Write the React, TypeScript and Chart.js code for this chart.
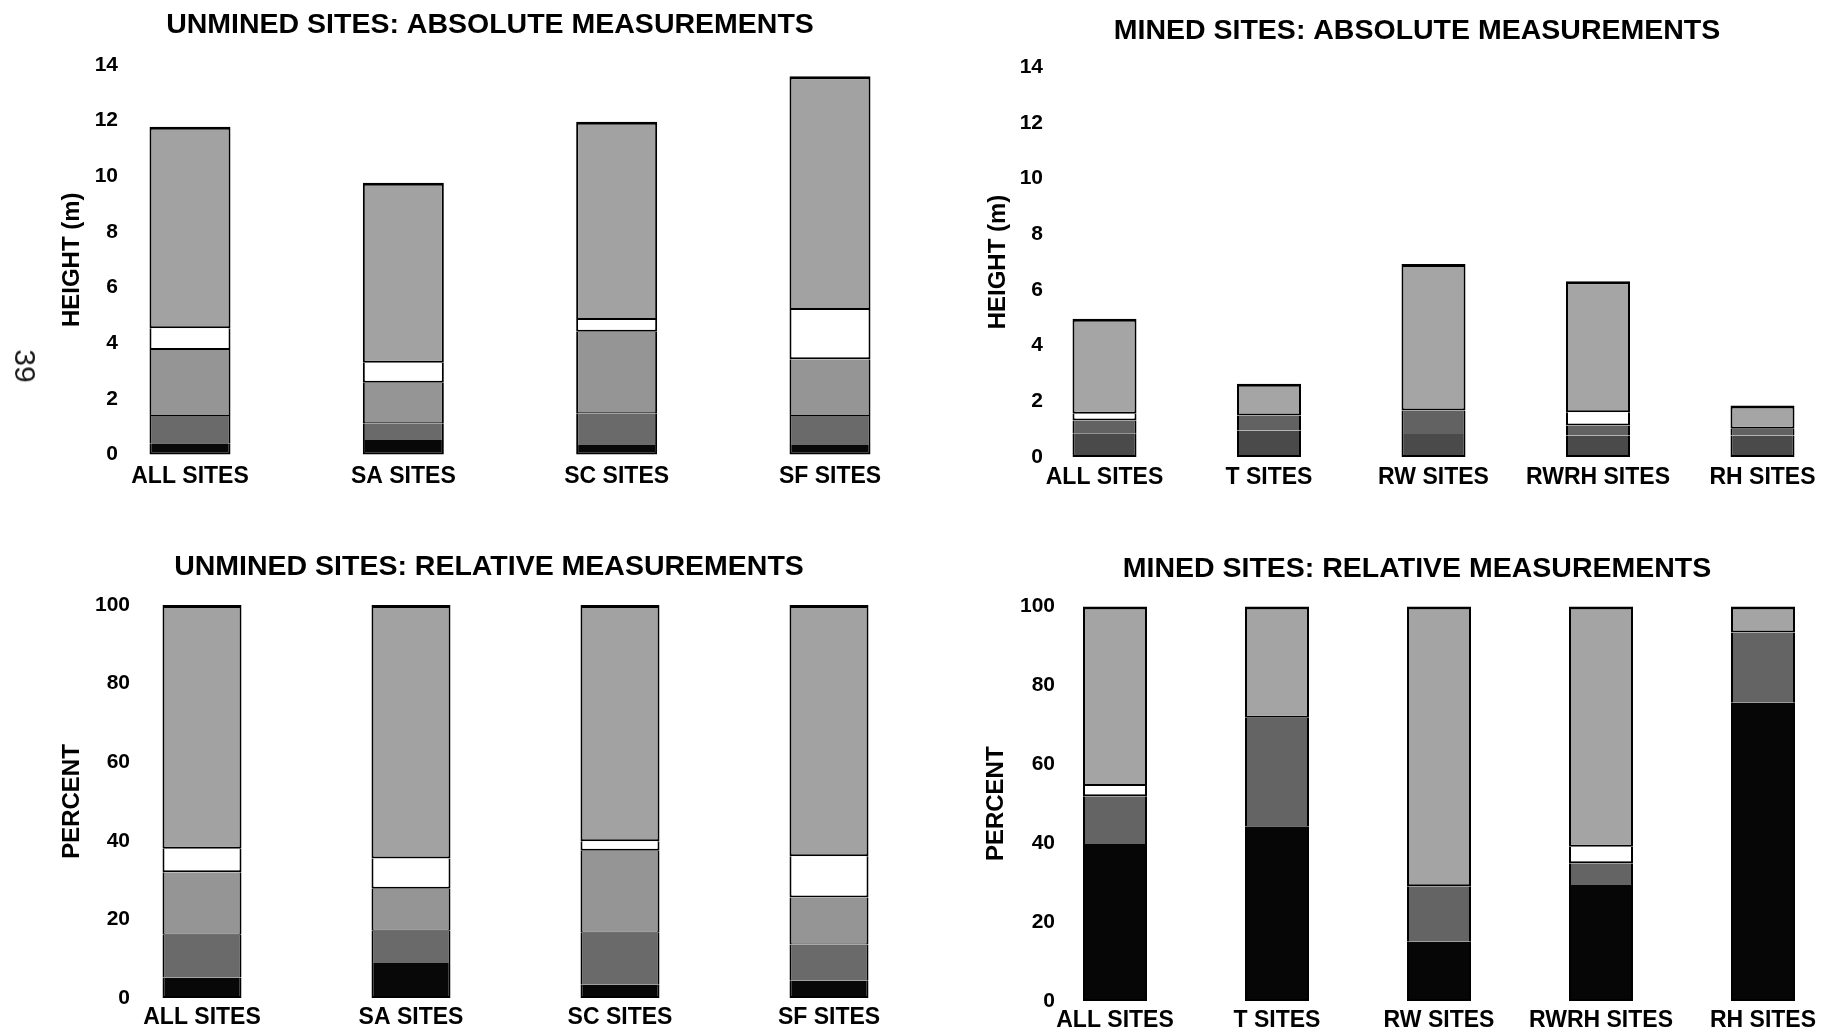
import React, { useEffect, useRef } from "react";
import { Chart, registerables } from "chart.js";

Chart.register(...registerables);

// ---------- categories ----------
const UNMINED_SITES = ["ALL SITES", "SA SITES", "SC SITES", "SF SITES"];
const MINED_SITES = ["ALL SITES", "T SITES", "RW SITES", "RWRH SITES", "RH SITES"];

// ---------- tick labels ----------
const HEIGHT_TICKS = [0, 2, 4, 6, 8, 10, 12, 14];
const PERCENT_TICKS = [0, 20, 40, 60, 80, 100];

// ---------- unmined sites: absolute (m), bottom -> top ----------
const UNMINED_ABS_BLACK = [0.4, 0.52, 0.34, 0.34];
const UNMINED_ABS_DARK = [0.98, 0.6, 1.14, 1.04];
const UNMINED_ABS_MID = [2.38, 1.46, 2.93, 2.04];
const UNMINED_ABS_WHITE = [0.78, 0.72, 0.42, 1.77];
const UNMINED_ABS_LIGHT = [7.24, 6.47, 7.13, 8.41];

// ---------- mined sites: absolute (m) ----------
const MINED_ABS_BLACK = [0.85, 0.95, 0.83, 0.77, 0.77];
const MINED_ABS_DARK = [0.46, 0.54, 0.84, 0.36, 0.24];
const MINED_ABS_WHITE = [0.24, 0, 0, 0.48, 0];
const MINED_ABS_LIGHT = [3.41, 1.14, 5.26, 4.7, 0.84];

// ---------- unmined sites: relative (%) ----------
const UNMINED_REL_BLACK = [5.2, 8.9, 3.4, 4.4];
const UNMINED_REL_DARK = [10.9, 8.2, 13.2, 9.2];
const UNMINED_REL_MID = [15.9, 10.7, 20.9, 12.0];
const UNMINED_REL_WHITE = [6.0, 7.7, 2.4, 10.5];
const UNMINED_REL_LIGHT = [62.0, 64.5, 60.1, 63.9];

// ---------- mined sites: relative (%) ----------
const MINED_REL_BLACK = [39.8, 44.3, 15.0, 29.4, 75.6];
const MINED_REL_DARK = [12.1, 27.5, 14.1, 5.5, 17.8];
const MINED_REL_WHITE = [2.6, 0, 0, 4.2, 0];
const MINED_REL_LIGHT = [45.5, 28.2, 70.9, 60.9, 6.6];

const FONT = "'Liberation Sans', Arial, Helvetica, sans-serif";

const B_LIGHT = { top: 3, right: 2, bottom: 2, left: 2 };
const B_WHITE = { top: 0, right: 2, bottom: 2, left: 2 };
const B_MID = { top: 0, right: 2, bottom: 1, left: 2 };
const B_DARK = { top: 0, right: 2, bottom: 0, left: 2 };
const B_BLACK = { top: 0, right: 2, bottom: 2, left: 2 };

type Seg = { label: string; data: number[]; color: string; border: any };

interface PanelSpec {
  title: string;
  yTitle: string;
  labels: string[];
  segments: Seg[];
  yTicks: number[];
  box: { left: number; top: number; width: number; height: number };
  yAxisWidth: number;
  yTickPad: number;
  yTitlePad: number;
  titlePadTop: number;
  titlePadBottom: number;
  xAxisHeight: number;
  xTickPad: number;
  padBottom: number;
  rightWidth: number;
  barThickness: number;
}

const PANELS: PanelSpec[] = [
  {
    title: "UNMINED SITES: ABSOLUTE MEASUREMENTS",
    yTitle: "HEIGHT (m)",
    labels: UNMINED_SITES,
    segments: [
      { label: "black", data: UNMINED_ABS_BLACK, color: "#080808", border: B_BLACK },
      { label: "dark", data: UNMINED_ABS_DARK, color: "#6a6a6a", border: B_DARK },
      { label: "mid", data: UNMINED_ABS_MID, color: "#959595", border: B_MID },
      { label: "white", data: UNMINED_ABS_WHITE, color: "#ffffff", border: B_WHITE },
      { label: "light", data: UNMINED_ABS_LIGHT, color: "#a2a2a2", border: B_LIGHT },
    ],
    yTicks: HEIGHT_TICKS,
    box: { left: 0, top: 0, width: 980, height: 517 },
    yAxisWidth: 190,
    yTickPad: 72,
    yTitlePad: 57.6,
    titlePadTop: 8.4,
    titlePadBottom: 22.4,
    xAxisHeight: 40,
    xTickPad: 8,
    padBottom: 22.5,
    rightWidth: 150,
    barThickness: 81,
  },
  {
    title: "MINED SITES: ABSOLUTE MEASUREMENTS",
    yTitle: "HEIGHT (m)",
    labels: MINED_SITES,
    segments: [
      { label: "black", data: MINED_ABS_BLACK, color: "#4a4a4a", border: B_BLACK },
      { label: "dark", data: MINED_ABS_DARK, color: "#626262", border: B_DARK },
      { label: "white", data: MINED_ABS_WHITE, color: "#ffffff", border: B_WHITE },
      { label: "light", data: MINED_ABS_LIGHT, color: "#a5a5a5", border: B_LIGHT },
    ],
    yTicks: HEIGHT_TICKS,
    box: { left: 977, top: 0, width: 880, height: 517 },
    yAxisWidth: 127.5,
    yTickPad: 61.5,
    yTitlePad: 6.6,
    titlePadTop: 13.9,
    titlePadBottom: 18.9,
    xAxisHeight: 40,
    xTickPad: 7.2,
    padBottom: 20,
    rightWidth: 94.5,
    barThickness: 64,
  },
  {
    title: "UNMINED SITES: RELATIVE MEASUREMENTS",
    yTitle: "PERCENT",
    labels: UNMINED_SITES,
    segments: [
      { label: "black", data: UNMINED_REL_BLACK, color: "#080808", border: B_BLACK },
      { label: "dark", data: UNMINED_REL_DARK, color: "#6a6a6a", border: B_DARK },
      { label: "mid", data: UNMINED_REL_MID, color: "#959595", border: B_MID },
      { label: "white", data: UNMINED_REL_WHITE, color: "#ffffff", border: B_WHITE },
      { label: "light", data: UNMINED_REL_LIGHT, color: "#a2a2a2", border: B_LIGHT },
    ],
    yTicks: PERCENT_TICKS,
    box: { left: 0, top: 517, width: 978, height: 517 },
    yAxisWidth: 202,
    yTickPad: 72,
    yTitlePad: 57.6,
    titlePadTop: 33.4,
    titlePadBottom: 20.4,
    xAxisHeight: 30,
    xTickPad: 6.2,
    padBottom: 6,
    rightWidth: 149,
    barThickness: 79,
  },
  {
    title: "MINED SITES: RELATIVE MEASUREMENTS",
    yTitle: "PERCENT",
    labels: MINED_SITES,
    segments: [
      { label: "black", data: MINED_REL_BLACK, color: "#060606", border: B_BLACK },
      { label: "dark", data: MINED_REL_DARK, color: "#646464", border: B_DARK },
      { label: "white", data: MINED_REL_WHITE, color: "#ffffff", border: B_WHITE },
      { label: "light", data: MINED_REL_LIGHT, color: "#a4a4a4", border: B_LIGHT },
    ],
    yTicks: PERCENT_TICKS,
    box: { left: 977, top: 517, width: 880, height: 517 },
    yAxisWidth: 138,
    yTickPad: 60,
    yTitlePad: 4.6,
    titlePadTop: 34.9,
    titlePadBottom: 20.4,
    xAxisHeight: 30,
    xTickPad: 6.2,
    padBottom: 3,
    rightWidth: 94,
    barThickness: 64,
  },
];

function Panel({ spec }: { spec: PanelSpec }) {
  const ref = useRef<HTMLCanvasElement | null>(null);

  useEffect(() => {
    if (!ref.current) return;
    const yMin = spec.yTicks[0];
    const yMax = spec.yTicks[spec.yTicks.length - 1];
    const chart = new Chart(ref.current, {
      type: "bar",
      data: {
        labels: spec.labels,
        datasets: spec.segments.map((s) => ({
          label: s.label,
          data: s.data,
          backgroundColor: s.color,
          borderColor: "#000000",
          borderWidth: s.border,
          borderSkipped: false,
          barThickness: spec.barThickness,
          inflateAmount: 0,
          clip: false,
          xAxisID: "x",
          yAxisID: "y",
        })),
      } as any,
      options: {
        responsive: false,
        maintainAspectRatio: false,
        animation: false,
        devicePixelRatio: 1,
        events: [],
        layout: { padding: { left: 0, right: 0, top: 0, bottom: spec.padBottom } },
        plugins: {
          legend: { display: false },
          tooltip: { enabled: false },
          title: {
            display: true,
            text: spec.title,
            color: "#000000",
            align: "center",
            fullSize: true,
            font: { family: FONT, size: 28.5, weight: "bold", lineHeight: 1.2 },
            padding: { top: spec.titlePadTop, bottom: spec.titlePadBottom },
          },
        },
        scales: {
          x: {
            type: "category",
            stacked: true,
            offset: false,
            grid: { display: false, drawTicks: false },
            border: { display: false },
            ticks: {
              color: "#000000",
              font: { family: FONT, size: 23, weight: "bold", lineHeight: 1.2 },
              padding: spec.xTickPad,
              maxRotation: 0,
              minRotation: 0,
              autoSkip: false,
            },
            afterFit: (s: any) => {
              s.height = spec.xAxisHeight;
              s.paddingLeft = 0;
              s.paddingRight = 0;
            },
          },
          y: {
            type: "linear",
            position: "left",
            stacked: true,
            min: yMin,
            max: yMax,
            grid: { display: false, drawTicks: false },
            border: { display: false },
            ticks: {
              color: "#000000",
              font: { family: FONT, size: 21, weight: "bold", lineHeight: 1.2 },
              padding: spec.yTickPad,
            },
            afterBuildTicks: (s: any) => {
              s.ticks = spec.yTicks.map((v) => ({ value: v }));
            },
            title: {
              display: true,
              text: spec.yTitle,
              color: "#000000",
              font: { family: FONT, size: 24, weight: "bold", lineHeight: 1.2 },
              padding: { top: spec.yTitlePad, bottom: 0 },
            },
            afterFit: (s: any) => {
              s.width = spec.yAxisWidth;
              s.paddingTop = 0;
              s.paddingBottom = 0;
            },
          },
          pad: {
            type: "linear",
            position: "right",
            display: true,
            grid: { display: false, drawTicks: false },
            border: { display: false },
            ticks: { display: false, padding: 0 },
            afterFit: (s: any) => {
              s.width = spec.rightWidth;
              s.paddingTop = 0;
              s.paddingBottom = 0;
            },
          },
        },
      } as any,
    });
    return () => chart.destroy();
  }, [spec]);

  return (
    <canvas
      ref={ref}
      width={spec.box.width}
      height={spec.box.height}
      style={{
        position: "absolute",
        left: spec.box.left,
        top: spec.box.top,
        width: spec.box.width,
        height: spec.box.height,
        display: "block",
      }}
    />
  );
}

export default function App() {
  return (
    <div
      style={{
        position: "absolute",
        left: 0,
        top: 0,
        width: 1823,
        height: 1034,
        overflow: "hidden",
        background: "#ffffff",
      }}
    >
      {PANELS.map((p, i) => (
        <Panel key={i} spec={p} />
      ))}
      <div
        style={{
          position: "absolute",
          left: 25,
          top: 366,
          transform: "translate(-50%, -50%) rotate(90deg)",
          fontFamily: FONT,
          fontSize: 30,
          lineHeight: 1,
          color: "#1a1a1a",
          whiteSpace: "nowrap",
        }}
      >
        39
      </div>
    </div>
  );
}
